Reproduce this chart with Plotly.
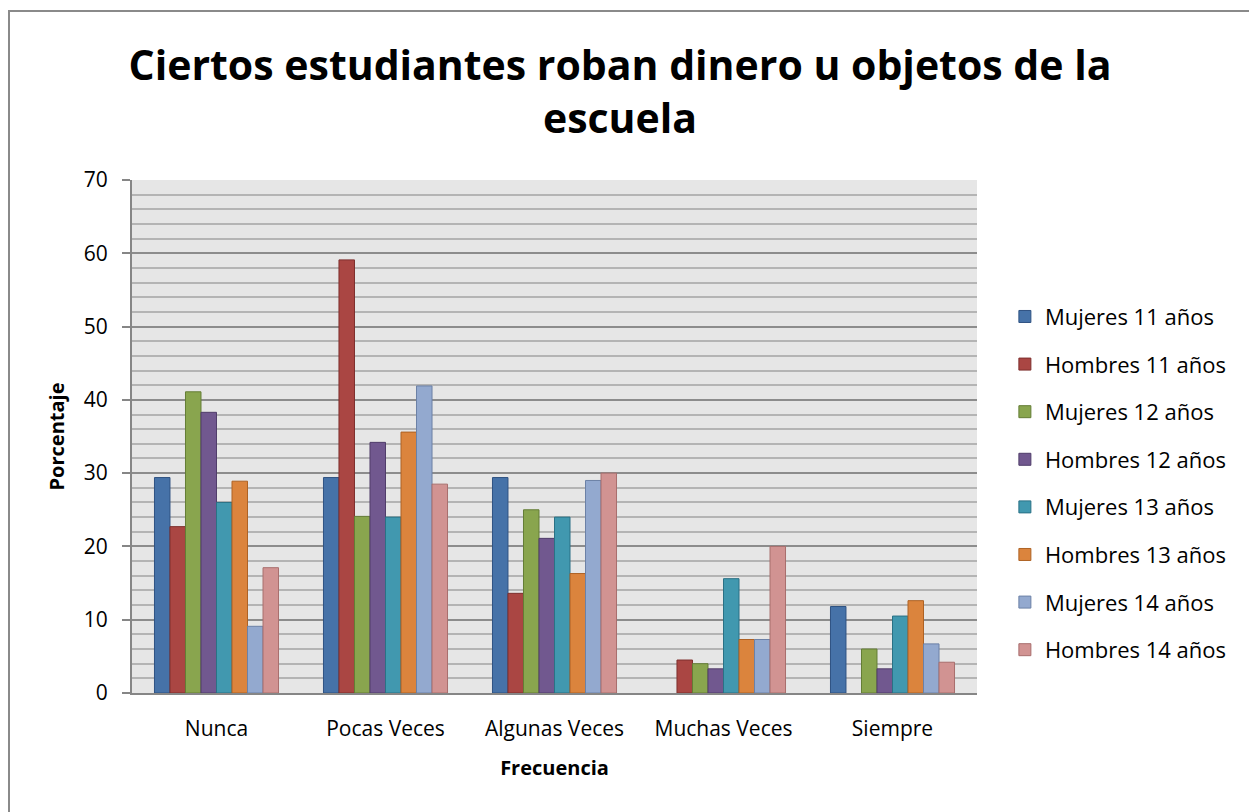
import plotly.graph_objects as go

# categorias del eje x
categorias = ["Nunca", "Pocas Veces", "Algunas Veces", "Muchas Veces", "Siempre"]

mujeres_11 = [29.4, 29.4, 29.4, 0, 11.8]
hombres_11 = [22.7, 59.1, 13.6, 4.5, 0]
mujeres_12 = [41.1, 24.1, 25.0, 4.0, 6.0]
hombres_12 = [38.3, 34.2, 21.1, 3.3, 3.3]
mujeres_13 = [26.0, 24.0, 24.0, 15.6, 10.5]
hombres_13 = [28.9, 35.6, 16.3, 7.3, 12.6]
mujeres_14 = [9.1, 41.9, 29.0, 7.3, 6.7]
hombres_14 = [17.1, 28.5, 30.0, 20.0, 4.2]

series = [
    ("Mujeres 11 años", mujeres_11, "#4672A8", "#2F5282"),
    ("Hombres 11 años", hombres_11, "#AA4643", "#7E2F2D"),
    ("Mujeres 12 años", mujeres_12, "#89A54E", "#647D35"),
    ("Hombres 12 años", hombres_12, "#71588F", "#503D6A"),
    ("Mujeres 13 años", mujeres_13, "#4198AF", "#2A7185"),
    ("Hombres 13 años", hombres_13, "#DB843D", "#AE6224"),
    ("Mujeres 14 años", mujeres_14, "#93A9CF", "#6C81A6"),
    ("Hombres 14 años", hombres_14, "#D19392", "#A86E6D"),
]

fuente = "Open Sans"

fig = go.Figure()
for i, (nombre, valores, color, borde) in enumerate(series):
    # sin borde en las barras de valor cero
    anchos = [1 if v > 0 else 0 for v in valores]
    fig.add_trace(go.Bar(
        x=categorias, y=valores, name=nombre, legendgroup=str(i),
        marker=dict(color=color, line=dict(color=borde, width=anchos)),
    ))

# la pagina desplaza la figura 8px, por eso ancho/alto reducidos
fig.update_layout(
    width=1249, height=804,
    barmode="group", bargap=0.266, bargroupgap=0,
    paper_bgcolor="white", plot_bgcolor="#E6E6E6",
    margin=dict(l=124, r=280, t=172, b=119),
    font=dict(family=fuente, size=21, color="black"),
    title=dict(
        text="<b>Ciertos estudiantes roban dinero u objetos de la<br>escuela</b>",
        x=0.49, xanchor="center", xref="container",
        y=1 - 72 / 804, yanchor="middle", yref="container",
        font=dict(family=fuente, size=41, color="black"),
    ),
    legend=dict(
        x=1.033, xanchor="left", y=0.409, yanchor="middle",
        font=dict(family=fuente, size=22), tracegroupgap=16,
        bgcolor="rgba(0,0,0,0)",
    ),
    showlegend=True,
)

fig.update_yaxes(
    range=[0, 70], dtick=10, showgrid=True, gridcolor="#8C8C8C", gridwidth=1.5,
    minor=dict(dtick=2, showgrid=True, gridcolor="#B4B4B4", gridwidth=1.5),
    showline=True, linecolor="#868686", linewidth=2,
    ticks="outside", ticklen=8, tickcolor="#868686", tickwidth=2,
    ticklabelstandoff=10, zeroline=False,
    title=dict(text="<b>Porcentaje</b>", font=dict(size=20), standoff=14),
)
fig.update_xaxes(
    showline=True, linecolor="#868686", linewidth=2, showgrid=False,
    ticks="", ticklabelstandoff=16,
    title=dict(text="<b>Frecuencia</b>", font=dict(size=20), standoff=20),
)

# marco exterior del grafico
fig.add_shape(
    type="rect", xref="paper", yref="paper",
    x0=(9 - 132) / 845, x1=(1255 - 132) / 845,
    y0=(693 - 818) / 513, y1=(693 - 11) / 513,
    line=dict(color="#8A8A8A", width=2), fillcolor="rgba(0,0,0,0)", layer="below",
)

fig.write_html("out.html")
